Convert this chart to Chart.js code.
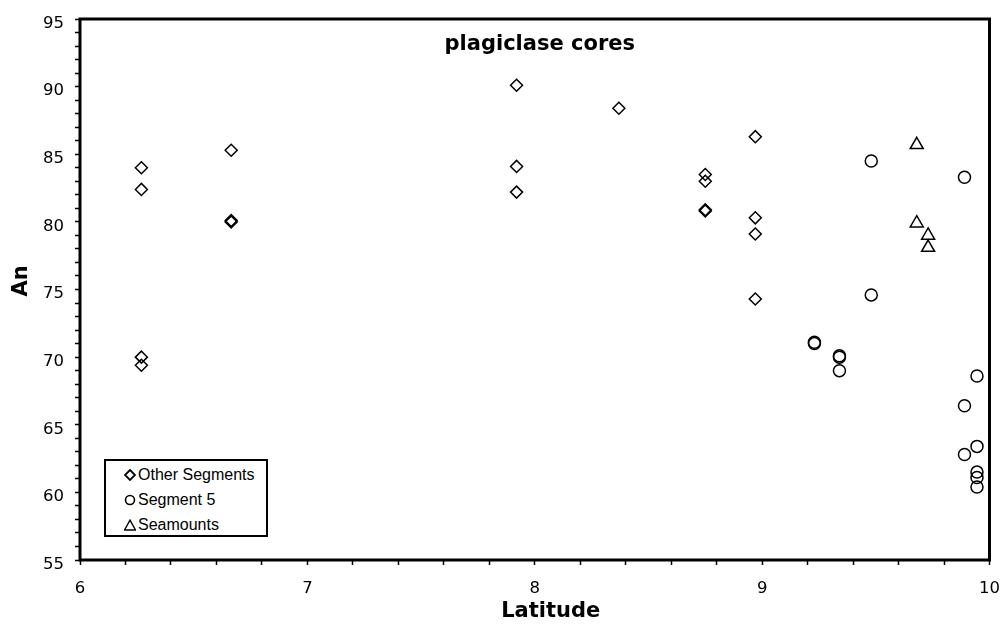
<!DOCTYPE html>
<html>
<head>
<meta charset="utf-8">
<script src="https://cdn.jsdelivr.net/npm/chart.js"></script>
<style>
  html, body { margin: 0; padding: 0; background: #fff; }
  #wrap { position: relative; width: 1004px; height: 631px; }
  #legend { position: absolute; left: 104px; top: 459px; width: 160px; height: 74px;
            border: 2px solid #000; background: #fff; font: 16px "Liberation Sans", Arial, sans-serif; color: #000; }
  .row { position: absolute; left: 0; height: 25px; line-height: 25px; white-space: nowrap; }
  .row svg { position: absolute; left: 18px; top: 7px; }
  .row span { position: absolute; left: 32px; top: 0; }
</style>
</head>
<body>
<div id="wrap">
  <canvas id="c" width="1004" height="631"></canvas>
  <div id="legend"></div>
</div>
<script>
// ---- data ----
const chartTitle = "plagiclase cores";
const xTitle = "Latitude";
const yTitle = "An";
const seriesNames = ["Other Segments", "Segment 5", "Seamounts"];

const otherLat = [6.27, 6.27, 6.27, 6.27, 6.665, 6.665, 6.665, 7.92, 7.92, 7.92, 8.37, 8.75, 8.75, 8.75, 8.75, 8.97, 8.97, 8.97, 8.97];
const otherAn  = [84.0, 82.4, 70.0, 69.4, 85.3, 80.1, 80.0, 90.1, 84.1, 82.2, 88.4, 83.5, 83.0, 80.9, 80.8, 86.3, 80.3, 79.1, 74.3];

const seg5Lat = [9.48, 9.48, 9.89, 9.23, 9.23, 9.34, 9.34, 9.34, 9.945, 9.89, 9.945, 9.89, 9.945, 9.945, 9.945];
const seg5An  = [84.5, 74.6, 83.3, 71.1, 71.0, 70.1, 70.0, 69.0, 68.6, 66.4, 63.4, 62.8, 61.5, 61.1, 60.4];

const seaLat = [9.68, 9.68, 9.73, 9.73];
const seaAn  = [85.7, 79.9, 79.0, 78.1];

const xMin = 6, xMax = 10, xStep = 0.2;
const yMin = 55, yMax = 95, yStep = 1, yLabelEvery = 5;

// ---- build ----
function pts(xs, ys) { return xs.map((x, i) => ({ x: x, y: ys[i] })); }
const styles = [
  { pointStyle: 'rectRot', pointRadius: 6 },
  { pointStyle: 'circle', pointRadius: 6 },
  { pointStyle: 'triangle', pointRadius: 7.5 }
];
const seriesData = [pts(otherLat, otherAn), pts(seg5Lat, seg5An), pts(seaLat, seaAn)];

const datasets = seriesNames.map((name, i) => ({
  label: name,
  data: seriesData[i],
  pointStyle: styles[i].pointStyle,
  pointRadius: styles[i].pointRadius,
  pointBorderWidth: 1.5,
  borderColor: '#000',
  backgroundColor: 'rgba(0,0,0,0)',
  pointBackgroundColor: 'rgba(0,0,0,0)',
  pointBorderColor: '#000',
  showLine: false
}));

const framePlugin = {
  id: 'frameAndTitles',
  afterDraw(chart) {
    const ctx = chart.ctx, a = chart.chartArea;
    ctx.save();
    ctx.lineWidth = 3;
    ctx.strokeStyle = '#000';
    ctx.strokeRect(a.left, a.top, a.right - a.left, a.bottom - a.top);
    ctx.fillStyle = '#000';
    ctx.textAlign = 'center';
    ctx.textBaseline = 'alphabetic';
    const cx = (a.left + a.right) / 2;
    ctx.font = 'bold 21px "DejaVu Sans"';
    ctx.fillText(chartTitle, cx + 5, a.top + 31);
    ctx.fillText(xTitle, cx + 16, 616.5);
    ctx.translate(26.5, (a.top + a.bottom) / 2 - 8.5);
    ctx.rotate(-Math.PI / 2);
    ctx.fillText(yTitle, 0, 0);
    ctx.restore();
  }
};

const tickFont = { family: '"DejaVu Sans"', size: 16.5 };

new Chart(document.getElementById('c'), {
  type: 'scatter',
  data: { datasets: datasets },
  options: {
    responsive: false,
    animation: false,
    events: [],
    layout: { padding: { top: 19, right: 14.5, left: 0, bottom: 0 } },
    plugins: { legend: { display: false }, tooltip: { enabled: false }, title: { display: false } },
    scales: {
      x: {
        type: 'linear', min: xMin, max: xMax,
        afterFit(s) { s.height = 71; s.paddingLeft = 0; s.paddingRight = 0; },
        border: { display: false },
        grid: { drawOnChartArea: false, drawTicks: true, tickLength: 5, tickWidth: 1.5, tickColor: '#000' },
        ticks: {
          stepSize: xStep, autoSkip: false, maxRotation: 0, padding: 14,
          color: '#000', font: tickFont,
          callback: v => Math.abs(v - Math.round(v)) < 1e-6 ? String(Math.round(v)) : ''
        }
      },
      y: {
        type: 'linear', min: yMin, max: yMax,
        afterFit(s) { s.width = 80; s.paddingTop = 0; s.paddingBottom = 0; },
        border: { display: false },
        grid: { drawOnChartArea: false, drawTicks: true, tickLength: 5, tickWidth: 1.5, tickColor: '#000' },
        ticks: {
          stepSize: yStep, autoSkip: false, padding: 11, labelOffset: 4.5,
          color: '#000', font: tickFont,
          callback: v => (Math.round(v) % yLabelEvery === 0) ? String(Math.round(v)) : ''
        }
      }
    }
  },
  plugins: [framePlugin]
});

// ---- legend (HTML, from the series names) ----
const markerSvg = [
  '<svg width="12" height="12"><polygon points="6,1 11,6 6,11 1,6" fill="none" stroke="#000" stroke-width="1.8"/></svg>',
  '<svg width="12" height="12"><circle cx="6" cy="6" r="4.5" fill="none" stroke="#000" stroke-width="1.6"/></svg>',
  '<svg width="12" height="12"><polygon points="6,1.2 11.5,11 0.5,11" fill="none" stroke="#000" stroke-width="1.4"/></svg>'
];
const lg = document.getElementById('legend');
seriesNames.forEach((name, i) => {
  const r = document.createElement('div');
  r.className = 'row';
  r.style.top = (0.5 + i * 25) + 'px';
  r.innerHTML = markerSvg[i] + '<span></span>';
  r.querySelector('span').textContent = name;
  lg.appendChild(r);
});
</script>
</body>
</html>
